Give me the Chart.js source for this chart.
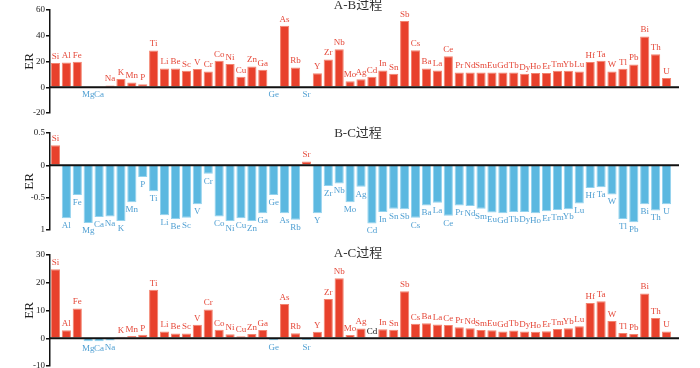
<!DOCTYPE html>
<html>
<head>
<meta charset="utf-8">
<script src="https://cdn.jsdelivr.net/npm/chart.js@4.4.1/dist/chart.umd.min.js"></script>
<style>
  html, body { margin: 0; background: #fff; overflow: hidden; }
  #wrap { position: relative; width: 700px; height: 368px; overflow: hidden; }
  .pane { position: absolute; left: 0; width: 700px; }
</style>
</head>
<body>
<div id="wrap">
  <div class="pane" style="top:0px;height:125px"><canvas id="chartAB"></canvas></div>
  <div class="pane" style="top:118px;height:125px"><canvas id="chartBC"></canvas></div>
  <div class="pane" style="top:238px;height:136px"><canvas id="chartAC"></canvas></div>
</div>
<script>
// element order along the x axis
var elements = ['Si','Al','Fe','Mg','Ca','Na','K','Mn','P','Ti','Li','Be','Sc','V','Cr','Co','Ni',
    'Cu','Zn','Ga','Ge','As','Rb','Sr','Y','Zr','Nb','Mo','Ag','Cd','In','Sn','Sb',
    'Cs','Ba','La','Ce','Pr','Nd','Sm','Eu','Gd','Tb','Dy','Ho','Er','Tm','Yb','Lu',
    'Hf','Ta','W','Tl','Pb','Bi','Th','U'];

// ER values
var abValues = [18.8, 19.2, 19.8, -0.3, -0.3, 1.3, 6.4, 3.6, 2.3, 28.5, 14.6, 14.6, 12.8, 14.1, 12.3, 20.5, 18.0,
    8.2, 16.2, 13.5, -0.3, 47.7, 15.4, -0.3, 10.8, 21.5, 29.5, 4.6, 6.2, 8.2, 13.1, 10.5, 51.5,
    28.7, 14.6, 13.1, 24.1, 11.5, 11.5, 11.5, 11.5, 11.5, 11.5, 10.5, 11.0, 11.0, 12.8, 12.8, 12.3,
    19.7, 20.5, 12.3, 14.4, 17.7, 39.5, 25.6, 7.2];
var bcValues = [0.31, -0.82, -0.46, -0.89, -0.80, -0.79, -0.86, -0.57, -0.18, -0.40, -0.77, -0.83, -0.81, -0.60, -0.13, -0.79, -0.86,
    -0.82, -0.86, -0.74, -0.46, -0.74, -0.84, 0.06, -0.74, -0.32, -0.28, -0.57, -0.33, -0.90, -0.72, -0.67, -0.68,
    -0.81, -0.62, -0.58, -0.78, -0.62, -0.63, -0.67, -0.73, -0.74, -0.72, -0.72, -0.74, -0.71, -0.69, -0.68, -0.59,
    -0.35, -0.34, -0.45, -0.83, -0.88, -0.60, -0.70, -0.60];
var acValues = [24.9, 2.9, 10.7, -1.1, -1.1, -0.8, 0.5, 0.8, 1.3, 17.5, 2.4, 1.7, 1.7, 4.9, 10.4, 3.1, 1.4,
    0.7, 1.5, 3.0, -0.7, 12.3, 1.8, -0.6, 2.3, 14.1, 21.6, 1.2, 3.5, 0, 3.2, 3.1, 16.9,
    5.2, 5.4, 5.0, 4.8, 4.0, 3.6, 3.0, 2.9, 2.4, 2.8, 2.4, 2.3, 2.5, 3.3, 3.6, 4.3,
    12.7, 13.3, 6.2, 1.9, 1.5, 16.1, 7.3, 2.4];

var titles = ['A-B过程', 'B-C过程', 'A-C过程'];

var RED = '#e8412c', RED_EDGE = '#f3836f';
var BLUE = '#5bb8e0', BLUE_EDGE = '#93d2ee';
var LBL_RED = '#e5493a', LBL_BLUE = '#4f9fd2';
var SERIF = '"Liberation Serif", "DejaVu Serif", serif';

// zero line + element names over/under the bars + panel title
var decorPlugin = {
    id: 'decor',
    afterDatasetsDraw: function(chart, args, opts) {
        var ctx = chart.ctx;
        var area = chart.chartArea;
        var y0 = chart.scales.y.getPixelForValue(0);
        ctx.save();
        ctx.strokeStyle = '#111';
        ctx.lineWidth = 2;
        ctx.beginPath();
        ctx.moveTo(area.left, y0);
        ctx.lineTo(area.right + 7, y0);
        ctx.stroke();

        var meta = chart.getDatasetMeta(0);
        var vals = chart.data.datasets[0].data;
        ctx.font = '9px ' + SERIF;
        ctx.textAlign = 'center';
        meta.data.forEach(function(bar, i) {
            var v = vals[i];
            if (v > 0) {
                ctx.fillStyle = LBL_RED;
                ctx.textBaseline = 'bottom';
                ctx.fillText(elements[i], bar.x, bar.y - 2);
            } else if (v < 0) {
                ctx.fillStyle = LBL_BLUE;
                ctx.textBaseline = 'top';
                ctx.fillText(elements[i], bar.x, bar.y + 3);
            } else {
                ctx.fillStyle = '#111';
                ctx.textBaseline = 'bottom';
                ctx.fillText(elements[i], bar.x, y0 - 2);
            }
        });

        ctx.font = '13px ' + SERIF + ', "Noto Sans CJK SC"';
        ctx.fillStyle = '#333';
        ctx.textAlign = 'center';
        ctx.textBaseline = 'middle';
        ctx.fillText(opts.title, 358, opts.titleY);
        ctx.restore();
    }
};

function makePanel(id, values, title, titleY, yMin, yMax, step, pad, tickFmt) {
    return new Chart(document.getElementById(id), {
        type: 'bar',
        data: {
            labels: elements,
            datasets: [{
                data: values,
                backgroundColor: values.map(function(v) { return v >= 0 ? RED : BLUE; }),
                borderColor: values.map(function(v) { return v >= 0 ? RED_EDGE : BLUE_EDGE; }),
                borderWidth: 1,
                categoryPercentage: 0.84,
                barPercentage: 1.0
            }]
        },
        options: {
            responsive: true,
            maintainAspectRatio: false,
            animation: false,
            layout: { padding: { left: 0, right: 28, top: pad[0], bottom: pad[1] } },
            plugins: {
                legend: { display: false },
                tooltip: { enabled: false },
                decor: { title: title, titleY: titleY }
            },
            scales: {
                x: {
                    display: false,
                    grid: { display: false }
                },
                y: {
                    min: yMin,
                    max: yMax,
                    afterFit: function(scale) { scale.width = 50; },
                    ticks: {
                        stepSize: step,
                        padding: 1,
                        color: '#222',
                        font: { family: SERIF, size: 9 },
                        callback: tickFmt
                    },
                    grid: {
                        display: true,
                        drawOnChartArea: false,
                        drawTicks: true,
                        tickLength: 4,
                        color: '#111',
                        lineWidth: 1.5
                    },
                    border: { display: true, color: '#111', width: 1.5 },
                    title: {
                        display: true,
                        text: 'ER',
                        color: '#222',
                        font: { family: SERIF, size: 13 },
                        padding: { top: 22, bottom: 0 }
                    }
                }
            }
        },
        plugins: [decorPlugin]
    });
}

makePanel('chartAB', abValues, titles[0], 6, -20, 60, 20, [10, 12],
    function(v) { return v; });
makePanel('chartBC', bcValues, titles[1], 16, -1, 0.5, 0.5, [15, 13],
    function(v) { return v === -1 ? '1' : v; });
makePanel('chartAC', acValues, titles[2], 16, -10, 30, 10, [17, 8],
    function(v) { return v; });
</script>
</body>
</html>
